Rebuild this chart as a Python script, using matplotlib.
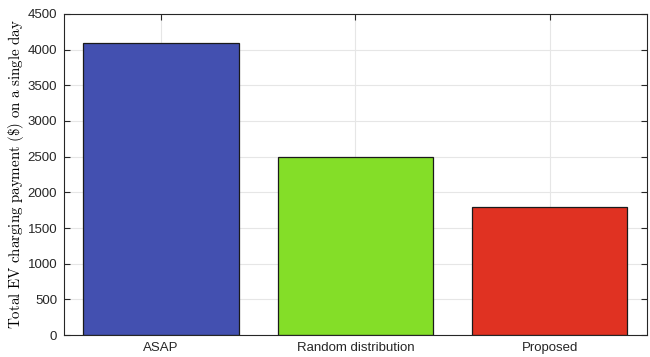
import matplotlib
matplotlib.use("Agg")
import matplotlib.pyplot as plt

methods = ["ASAP", "Random distribution", "Proposed"]
payment = [4090, 2490, 1800]
bar_colors = ["#4350B0", "#84DE28", "#E03222"]

plt.rcParams["font.family"] = ["Liberation Sans", "DejaVu Sans"]
plt.rcParams["mathtext.fontset"] = "cm"

fig = plt.figure(figsize=(6.5, 3.57), dpi=100)
ax = fig.add_axes([0.0985, 0.0616, 0.8965, 0.8992])

x = list(range(1, len(methods) + 1))
ax.bar(x, payment, width=0.8, color=bar_colors, edgecolor="#1a1a1a", linewidth=0.9, zorder=3)

ax.set_xlim(0.5, 3.5)
ax.set_ylim(0, 4500)
ax.set_xticks(x)
ax.set_xticklabels(methods)
ax.set_yticks(range(0, 4501, 500))
ax.grid(True, color="#e6e6e6", linewidth=0.8, zorder=0)
ax.set_axisbelow(True)
ax.tick_params(direction="in", top=True, right=True, length=4, width=0.8,
               labelsize=9.5, colors="#262626", pad=5)
for s in ax.spines.values():
    s.set_color("#262626")
    s.set_linewidth(0.8)
    s.set_zorder(4)

ax.set_ylabel(r"$\mathrm{Total\ EV\ charging\ payment\ (\$)\ on\ a\ single\ day}$",
              fontsize=10.8, labelpad=1)

fig.savefig("out.png", dpi=100)
